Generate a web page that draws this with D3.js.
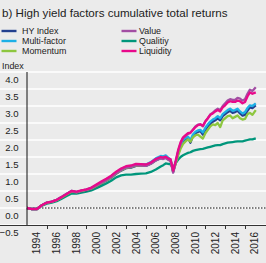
<!DOCTYPE html>
<html>
<head>
<meta charset="utf-8">
<script src="https://cdn.jsdelivr.net/npm/d3@7"></script>
<style>
body{margin:0;background:#ebebeb;}
svg{display:block;font-family:"Liberation Sans",Arial,sans-serif;}
</style>
</head>
<body>
<svg id="chart" width="266" height="263"></svg>
<script>
// month of each observation
const dates = ["1994-01","1994-07","1995-01","1995-07","1996-01","1996-07","1997-01","1997-07",
  "1998-01","1998-07","1999-01","1999-07","2000-01","2000-07","2001-01","2001-07",
  "2002-01","2002-07","2003-01","2003-07","2004-01","2004-07","2005-01","2005-07",
  "2006-01","2006-07","2007-01","2007-07","2007-10","2008-01","2008-04","2008-07",
  "2008-10","2009-01","2009-04","2009-07","2009-10","2010-01","2010-04","2010-07",
  "2010-10","2011-01","2011-04","2011-07","2011-10","2012-01","2012-04","2012-07",
  "2012-10","2013-01","2013-04","2013-07","2013-10","2014-01","2014-04","2014-07",
  "2014-10","2015-01","2015-04","2015-07","2015-10","2016-01","2016-04","2016-07",
  "2016-10","2017-02"];

const hyIndex = [0.00,-0.03,-0.03,0.08,0.15,0.18,0.23,0.31,0.40,0.48,0.45,0.49,0.52,0.56,0.64,0.72,
  0.80,0.89,1.01,1.10,1.17,1.19,1.24,1.24,1.24,1.30,1.40,1.47,1.46,1.49,1.43,1.38,
  1.06,1.32,1.60,1.82,1.96,2.02,2.06,1.92,2.12,2.20,2.24,2.26,2.16,2.30,2.40,2.48,
  2.54,2.58,2.64,2.58,2.70,2.76,2.82,2.86,2.80,2.82,2.86,2.78,2.72,2.74,2.86,2.96,
  2.94,3.02];
const multiFactor = [0.00,-0.03,-0.03,0.08,0.16,0.19,0.24,0.32,0.41,0.50,0.47,0.51,0.54,0.59,0.67,0.76,
  0.84,0.93,1.05,1.14,1.21,1.23,1.28,1.28,1.28,1.35,1.46,1.53,1.52,1.55,1.48,1.42,
  1.08,1.36,1.64,1.86,2.00,2.06,2.10,2.00,2.16,2.24,2.28,2.30,2.22,2.36,2.46,2.54,
  2.60,2.64,2.70,2.64,2.76,2.82,2.88,2.92,2.86,2.88,2.92,2.84,2.78,2.82,2.94,3.02,
  3.00,3.08];
const momentum = [0.00,-0.03,-0.03,0.08,0.15,0.18,0.23,0.31,0.40,0.48,0.46,0.50,0.53,0.57,0.65,0.73,
  0.81,0.90,1.02,1.11,1.18,1.20,1.25,1.25,1.25,1.31,1.41,1.48,1.47,1.50,1.44,1.39,
  1.07,1.30,1.54,1.74,1.88,1.96,2.02,1.95,2.08,2.14,2.16,2.10,2.04,2.20,2.30,2.40,
  2.46,2.44,2.50,2.38,2.58,2.64,2.70,2.72,2.64,2.68,2.72,2.64,2.60,2.62,2.76,2.80,
  2.74,2.88];
const value = [0.00,-0.03,-0.03,0.08,0.16,0.19,0.24,0.33,0.42,0.50,0.47,0.51,0.54,0.58,0.66,0.74,
  0.82,0.91,1.03,1.12,1.19,1.21,1.26,1.25,1.24,1.30,1.40,1.46,1.44,1.47,1.42,1.38,
  1.04,1.34,1.66,1.90,2.05,2.12,2.18,2.21,2.30,2.40,2.45,2.46,2.40,2.54,2.64,2.75,
  2.80,2.87,2.92,2.88,3.00,3.08,3.16,3.20,3.18,3.18,3.24,3.22,3.16,3.20,3.36,3.48,
  3.44,3.55];
const quality = [0.00,-0.03,-0.03,0.07,0.13,0.16,0.20,0.27,0.35,0.43,0.42,0.45,0.48,0.52,0.58,0.65,
  0.72,0.80,0.90,0.96,0.98,0.98,1.00,1.01,1.02,1.06,1.13,1.22,1.26,1.31,1.30,1.28,
  1.18,1.32,1.42,1.50,1.55,1.59,1.62,1.64,1.68,1.70,1.72,1.73,1.74,1.76,1.78,1.80,
  1.82,1.84,1.85,1.85,1.88,1.90,1.92,1.93,1.94,1.95,1.96,1.96,1.96,1.98,2.00,2.02,
  2.02,2.05];
const liquidity = [0.00,-0.03,-0.03,0.08,0.16,0.19,0.24,0.32,0.41,0.50,0.48,0.52,0.55,0.60,0.69,0.78,
  0.86,0.95,1.07,1.16,1.23,1.25,1.30,1.29,1.28,1.34,1.44,1.50,1.48,1.51,1.46,1.43,
  1.10,1.38,1.70,1.93,2.08,2.14,2.20,2.22,2.30,2.38,2.44,2.46,2.42,2.55,2.64,2.74,
  2.78,2.84,2.88,2.84,2.96,3.02,3.10,3.14,3.12,3.12,3.16,3.14,3.08,3.12,3.28,3.40,
  3.36,3.40];

const yTicks = [-0.5,0.0,0.5,1.0,1.5,2.0,2.5,3.0,3.5,4.0];
const xLabels = ["1994","1996","1998","2000","2002","2004","2006","2008","2010","2012","2014","2016"];

const names = ["HY Index","Multi-factor","Momentum","Value","Qualitiy","Liquidity"];
const colors = ["#22408f","#1cb0e6","#8dc63f","#a24ea3","#00967b","#e8098a"];
const seriesValues = [hyIndex, multiFactor, momentum, value, quality, liquidity];

const W = 266, H = 263;
const plotLeft = 27, plotTop = 72, plotBottom = 225;

const parse = d3.timeParse("%Y-%m");
const svg = d3.select("#chart");

const x = d3.scaleTime()
  .domain([parse("1994-01"), parse("2016-01")])
  .range([plotLeft, 245]);
const y = d3.scaleLinear().domain([-0.5, 4.0]).range([plotBottom, plotTop]);

// title
svg.append("text").attr("x", 2).attr("y", 17)
  .attr("font-size", 11.6).attr("fill", "#222")
  .text("b) High yield factors cumulative total returns");

// legend, two columns of three
names.forEach((n, i) => {
  const col = Math.floor(i / 3), row = i % 3;
  const sx = col ? 121.5 : 1.5, tx = col ? 139 : 22;
  const ly = 31 + row * 10;
  svg.append("line").attr("x1", sx).attr("x2", sx + 15)
    .attr("y1", ly).attr("y2", ly)
    .attr("stroke", colors[i]).attr("stroke-width", 2.4);
  svg.append("text").attr("x", tx).attr("y", ly + 3.2)
    .attr("font-size", 8.9).attr("fill", "#222").text(n);
});

svg.append("text").attr("x", 2).attr("y", 69)
  .attr("font-size", 8.9).attr("fill", "#222").text("Index");

// gridlines + y labels
svg.append("g").selectAll("line").data(yTicks).join("line")
  .attr("x1", 0).attr("x2", W)
  .attr("y1", d => y(d)).attr("y2", d => y(d))
  .attr("stroke", "#fff").attr("stroke-width", 1.5);

svg.append("g").selectAll("text").data(yTicks).join("text")
  .attr("x", 18.5).attr("y", d => y(d) + 11)
  .attr("text-anchor", "end").attr("font-size", 9.6).attr("fill", "#222")
  .text(d => d3.format(".1f")(d));

// zero reference
svg.append("line").attr("x1", plotLeft).attr("x2", W)
  .attr("y1", y(0)).attr("y2", y(0))
  .attr("stroke", "#555").attr("stroke-width", 1.5)
  .attr("stroke-dasharray", "1.5,1.5");

// series
const line = d3.line()
  .x((d, i) => x(parse(dates[i])))
  .y(d => y(d));

const drawOrder = [4, 0, 1, 2, 3, 5];
drawOrder.forEach(i => {
  svg.append("path").datum(seriesValues[i])
    .attr("d", line)
    .attr("fill", "none")
    .attr("stroke", colors[i])
    .attr("stroke-width", 2.3)
    .attr("stroke-linejoin", "round");
});

// axes
svg.append("line").attr("x1", plotLeft).attr("x2", plotLeft)
  .attr("y1", plotTop).attr("y2", plotBottom)
  .attr("stroke", "#111").attr("stroke-width", 1);
svg.append("line").attr("x1", 0).attr("x2", W)
  .attr("y1", plotBottom + 0.5).attr("y2", plotBottom + 0.5)
  .attr("stroke", "#333").attr("stroke-width", 1);

// ticks between the two-year labels
const tickYears = xLabels.slice(1);
svg.append("g").selectAll("line").data(tickYears).join("line")
  .attr("x1", d => Math.round(x(parse(d + "-01"))) + 0.5)
  .attr("x2", d => Math.round(x(parse(d + "-01"))) + 0.5)
  .attr("y1", plotBottom).attr("y2", plotBottom + 4)
  .attr("stroke", "#333").attr("stroke-width", 1);

svg.append("g").selectAll("text").data(xLabels).join("text")
  .attr("transform", d => {
    const cx = x(parse((+d + 1) + "-01"));
    return "translate(" + cx + "," + 232 + ") rotate(-90)";
  })
  .attr("text-anchor", "end").attr("dy", "0.35em")
  .attr("font-size", 10).attr("fill", "#222")
  .text(d => d);
</script>
</body>
</html>
